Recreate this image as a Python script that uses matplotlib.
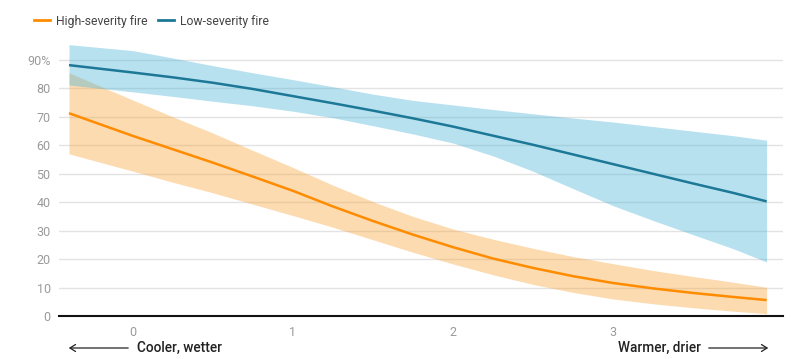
import matplotlib
matplotlib.use("Agg")
import matplotlib.pyplot as plt
from matplotlib.lines import Line2D
from matplotlib.patches import FancyArrowPatch

plt.rcParams['font.family'] = ['Roboto', 'DejaVu Sans']

# Climate index (x) and predicted probability (%) of fire severity
x = [-0.4, 0.0, 0.25, 0.5, 0.75, 1.0, 1.25, 1.5, 1.75, 2.0, 2.25, 2.5, 2.75,
     3.0, 3.25, 3.5, 3.75, 3.96]

high_mid = [71.3, 63.3, 58.6, 53.9, 49.0, 44.0, 38.5, 33.4, 28.6, 24.2, 20.2,
            16.9, 14.0, 11.6, 9.7, 8.1, 6.7, 5.6]
high_lo = [57.0, 50.9, 47.0, 43.3, 39.3, 35.3, 31.2, 26.8, 22.4, 18.3, 14.5,
           11.1, 8.3, 6.0, 4.3, 2.9, 1.7, 0.8]
high_hi = [85.5, 75.9, 70.0, 64.3, 58.2, 52.2, 46.0, 40.2, 35.0, 30.6, 27.0,
           23.8, 20.9, 18.4, 16.0, 13.9, 11.9, 10.1]

low_mid = [88.2, 85.6, 83.9, 82.0, 79.8, 77.3, 74.8, 72.2, 69.5, 66.6, 63.4,
           60.2, 56.8, 53.4, 50.0, 46.6, 43.3, 40.3]
low_lo = [81.2, 78.8, 77.2, 75.5, 73.9, 72.0, 69.7, 66.9, 64.0, 60.8, 56.3,
          50.9, 44.8, 38.8, 33.6, 28.6, 23.7, 19.0]
low_hi = [95.4, 93.3, 90.7, 88.0, 85.5, 83.1, 80.6, 78.0, 75.8, 74.2, 72.6,
          71.1, 69.6, 68.2, 66.6, 65.0, 63.4, 61.8]

xticks = [0, 1, 2, 3]
yticks = [0, 10, 20, 30, 40, 50, 60, 70, 80, 90]
ytick_labels = ["0", "10", "20", "30", "40", "50", "60", "70", "80", "90%"]

series_names = ["High-severity fire", "Low-severity fire"]
orange = "#ff8c00"
blue = "#1c7896"

fig = plt.figure(figsize=(8.09, 3.59), dpi=100)
ax = fig.add_axes([59 / 809, (359 - 316) / 359, 724 / 809, 275.9 / 359])

ax.set_xlim(-0.4625, 4.0625)
ax.set_ylim(0, 97)

ax.fill_between(x, high_lo, high_hi, color=(248/255, 165/255, 58/255), alpha=0.4, lw=0, zorder=2)
ax.fill_between(x, low_lo, low_hi, color=(77/255, 180/255, 217/255), alpha=0.4, lw=0, zorder=3)
ax.plot(x, high_mid, color=orange, lw=1.8, zorder=4, solid_capstyle='butt')
ax.plot(x, low_mid, color=blue, lw=1.8, zorder=5, solid_capstyle='butt')

for s in ax.spines.values():
    s.set_visible(False)
ax.axhline(0, color="#111111", lw=1.5, zorder=6, clip_on=False)

ax.set_yticks(yticks)
ax.set_yticklabels(ytick_labels)
ax.set_xticks(xticks)
ax.set_xticklabels([str(t) for t in xticks])
ax.tick_params(axis='both', length=0, labelsize=9, labelcolor="#9a9a9a")
ax.tick_params(axis='y', pad=6)
ax.tick_params(axis='x', pad=7)
ax.grid(axis='y', color="#e3e3e3", lw=1, zorder=1)
ax.set_axisbelow(True)

handles = [Line2D([], [], color=orange, lw=2), Line2D([], [], color=blue, lw=2)]
fig.legend(handles, series_names, loc='center left', bbox_to_anchor=(0.028, 1 - 21 / 359),
           ncol=2, frameon=False, fontsize=8.8, handlelength=1.3, handletextpad=0.5,
           columnspacing=0.9, labelcolor="#444444")

# axis direction annotations
yb = 1 - 348 / 359
fig.text(137 / 809, yb, "Cooler, wetter", fontsize=9.8, fontweight='medium', color="#222222",
         ha='left', va='center')
fig.text(701 / 809, yb, "Warmer, drier", fontsize=9.8, fontweight='medium', color="#222222",
         ha='right', va='center')
fig.patches.append(FancyArrowPatch((131 / 809, yb), (66 / 809, yb),
                   transform=fig.transFigure, arrowstyle='->,head_length=4,head_width=2.5',
                   lw=0.9, color="#222222", mutation_scale=1))
fig.patches.append(FancyArrowPatch((706 / 809, yb), (771 / 809, yb),
                   transform=fig.transFigure, arrowstyle='->,head_length=4,head_width=2.5',
                   lw=0.9, color="#222222", mutation_scale=1))

fig.savefig("out.png", dpi=100)
